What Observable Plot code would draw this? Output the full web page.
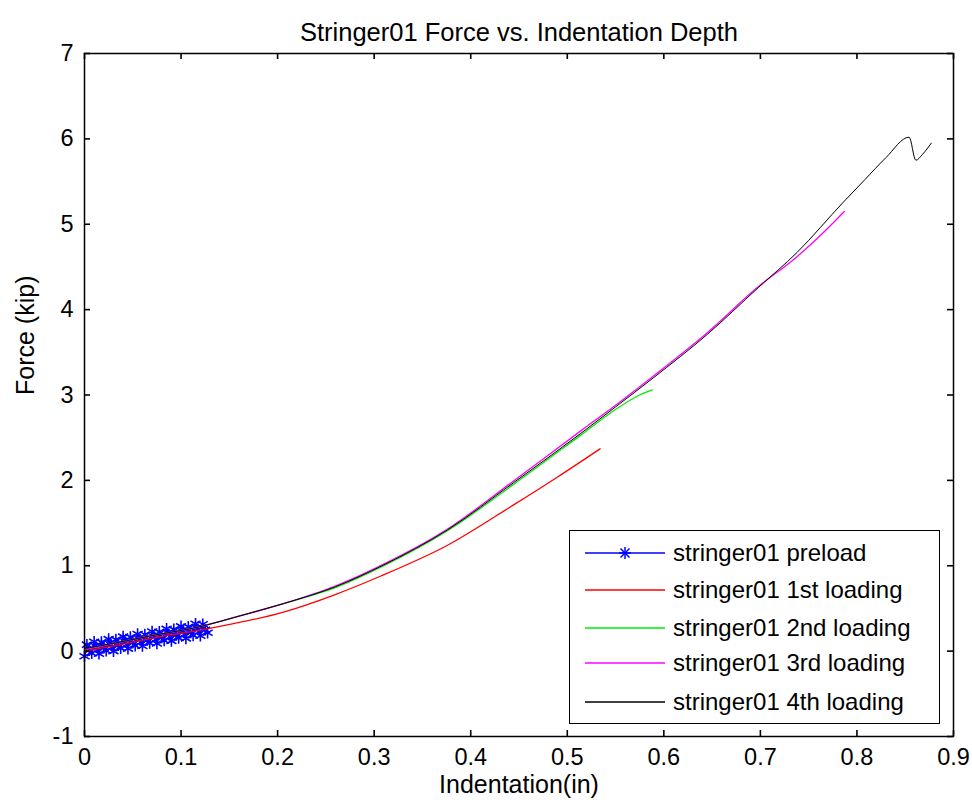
<!DOCTYPE html>
<html><head><meta charset="utf-8">
<script src="https://cdn.jsdelivr.net/npm/d3@7"></script>
<script src="https://cdn.jsdelivr.net/npm/@observablehq/plot@0.6"></script>
<style>
body{margin:0;background:#fff;font-family:"Liberation Sans",Arial,sans-serif;}
#wrap{position:relative;width:972px;height:805px;}
#legend{position:absolute;left:569px;top:530px;width:371px;height:194px;border:1.5px solid #000;background:#fff;box-sizing:border-box;}
.row{position:absolute;left:0;height:30px;display:flex;align-items:center;}
.row svg{margin-left:15px;margin-right:8px;}
.row span{font-size:24px;color:#000;white-space:nowrap;}
</style></head>
<body><div id="wrap"><div id="chart"></div><div id="legend"></div></div>
<script>
const title = "Stringer01 Force vs. Indentation Depth";
const xLabel = "Indentation(in)";
const yLabel = "Force (kip)";
const xTicks = [0,0.1,0.2,0.3,0.4,0.5,0.6,0.7,0.8,0.9];
const yTicks = [-1,0,1,2,3,4,5,6,7];
const seriesNames = ["stringer01 preload","stringer01 1st loading","stringer01 2nd loading","stringer01 3rd loading","stringer01 4th loading"];
const seriesColors = ["#0000ff","#ff0000","#00ee00","#ff00ff","#000000"];

const preloadX = [0,0.0025,0.005,0.0075,0.01,0.0125,0.015,0.0175,0.02,0.0225,0.025,0.0275,0.03,0.0325,0.035,0.0375,0.04,0.0425,0.045,0.0475,0.05,0.0525,0.055,0.0575,0.06,0.0625,0.065,0.0675,0.07,0.0725,0.075,0.0775,0.08,0.0825,0.085,0.0875,0.09,0.0925,0.095,0.0975,0.1,0.1025,0.105,0.1075,0.11,0.1125,0.115,0.1175,0.12,0.1225,0.125,0.1275];
const preloadY = [-0.06,0.075,0.01,-0.025,0.11,0.045,-0.03,0.105,0.04,0.005,0.14,0.075,0.0,0.135,0.07,0.035,0.17,0.105,0.03,0.165,0.1,0.065,0.2,0.135,0.06,0.195,0.13,0.095,0.23,0.165,0.09,0.225,0.16,0.125,0.26,0.195,0.12,0.255,0.19,0.155,0.29,0.225,0.15,0.285,0.22,0.185,0.32,0.255,0.18,0.315,0.25,0.215];

const load1X = [0,0.034,0.069,0.131,0.207,0.259,0.307,0.376,0.444,0.49,0.534];
const load1Y = [0.0,0.07,0.15,0.27,0.46,0.66,0.88,1.24,1.71,2.04,2.37];

const load2X = [0,0.034,0.069,0.121,0.16,0.207,0.259,0.31,0.376,0.444,0.514,0.55,0.575,0.588];
const load2Y = [0.02,0.1,0.18,0.29,0.41,0.56,0.74,1.0,1.41,1.95,2.53,2.83,3.0,3.06];

const load3X = [0,0.034,0.069,0.121,0.16,0.207,0.259,0.31,0.376,0.444,0.514,0.55,0.589,0.645,0.698,0.738,0.765,0.787];
const load3Y = [0.02,0.1,0.18,0.29,0.41,0.56,0.76,1.02,1.43,1.99,2.58,2.88,3.22,3.73,4.27,4.62,4.9,5.15];

const load4X = [0,0.034,0.069,0.121,0.16,0.207,0.259,0.31,0.376,0.444,0.514,0.55,0.589,0.645,0.698,0.738,0.786,0.808,0.83,0.854,0.861,0.868,0.877];
const load4Y = [0.03,0.1,0.18,0.29,0.41,0.56,0.75,1.01,1.42,1.97,2.55,2.86,3.2,3.71,4.26,4.67,5.26,5.52,5.78,6.02,5.75,5.82,5.95];

const toRows = (xs, ys) => xs.map((x, i) => ({x, y: ys[i]}));
const pre = toRows(preloadX, preloadY);
const loads = [toRows(load1X, load1Y), toRows(load2X, load2Y), toRows(load3X, load3Y), toRows(load4X, load4Y)];
const fmt = d => String(d);

const W = 972, H = 805, mT = 53, mB = 69, mL = 84, mR = 19;
const xDom = [0, 0.9], yDom = [-1, 7];
const tickPx = 6;
// tick length converted from pixels to data units along each axis
const tyLen = tickPx * (yDom[1] - yDom[0]) / (H - mT - mB);
const txLen = tickPx * (xDom[1] - xDom[0]) / (W - mL - mR);
const tickStyle = {stroke: "#000", strokeWidth: 1.6};

const chart = Plot.plot({
  width: W, height: H,
  marginTop: mT, marginBottom: mB, marginLeft: mL, marginRight: mR,
  x: {domain: xDom},
  y: {domain: yDom},
  style: {fontFamily: "'Liberation Sans', Arial, sans-serif", fontSize: "23.5px", color: "#000", background: "#fff"},
  marks: [
    Plot.line(pre, {x: "x", y: "y", stroke: seriesColors[0], strokeWidth: 2}),
    Plot.dot(pre, {x: "x", y: "y", symbol: "asterisk", r: 5.5, stroke: seriesColors[0], strokeWidth: 1.6}),
    ...loads.map((d, i) => Plot.line(d, {x: "x", y: "y", curve: "monotone-x", stroke: seriesColors[i + 1], strokeWidth: i === 3 ? 1 : 1.3})),
    Plot.frame({stroke: "#000", strokeWidth: 1.5}),
    Plot.ruleX(xTicks, {x: d => d, y1: yDom[0], y2: yDom[0] + tyLen, ...tickStyle}),
    Plot.ruleX(xTicks, {x: d => d, y1: yDom[1] - tyLen, y2: yDom[1], ...tickStyle}),
    Plot.ruleY(yTicks, {y: d => d, x1: xDom[0], x2: xDom[0] + txLen, ...tickStyle}),
    Plot.ruleY(yTicks, {y: d => d, x1: xDom[1] - txLen, x2: xDom[1], ...tickStyle}),
    Plot.axisX({anchor: "bottom", ticks: xTicks, tickSize: 0, tickPadding: 12, tickFormat: fmt, label: null}),
    Plot.axisY({anchor: "left", ticks: yTicks, tickSize: 0, tickPadding: 11, tickFormat: fmt, label: null}),
    Plot.text([title], {frameAnchor: "top", dy: -31, fontSize: 25.5}),
    Plot.text([xLabel], {frameAnchor: "bottom", dy: 56, fontSize: 25}),
    Plot.text([yLabel], {frameAnchor: "left", dx: -59, rotate: -90, fontSize: 25})
  ]
});
document.getElementById("chart").appendChild(chart);

const legend = document.getElementById("legend");
const rowCenters = [22, 59, 97, 132, 171];
seriesNames.forEach((name, i) => {
  const row = document.createElement("div");
  row.className = "row";
  row.style.top = (rowCenters[i] - 15) + "px";
  const c = seriesColors[i];
  let svg = `<svg width="80" height="20"><line x1="0" y1="10" x2="80" y2="10" stroke="${c}" stroke-width="1.5"/>`;
  if (i === 0) {
    svg += `<g stroke="${c}" stroke-width="1.5"><line x1="40" y1="4" x2="40" y2="16"/><line x1="34" y1="10" x2="46" y2="10"/><line x1="35.5" y1="5.5" x2="44.5" y2="14.5"/><line x1="35.5" y1="14.5" x2="44.5" y2="5.5"/></g>`;
  }
  svg += `</svg>`;
  row.innerHTML = svg + `<span>${name}</span>`;
  legend.appendChild(row);
});
</script>
</body></html>
